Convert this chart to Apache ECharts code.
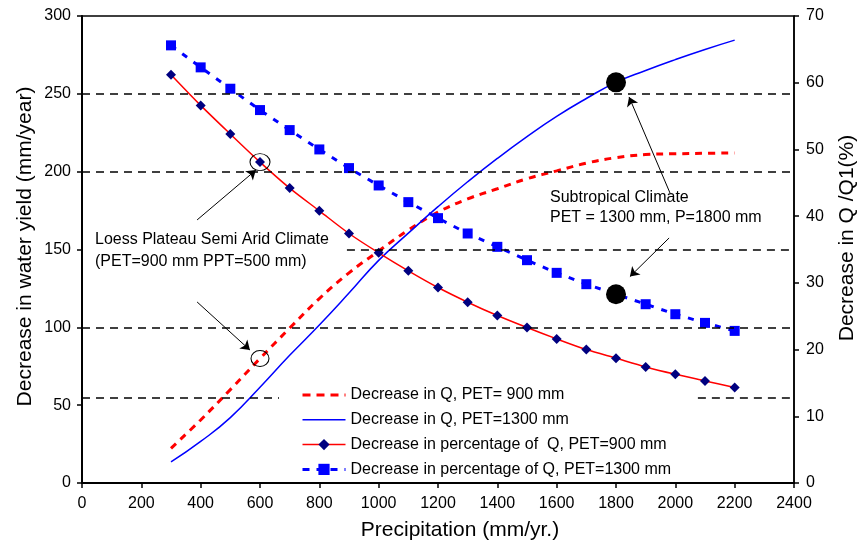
<!DOCTYPE html>
<html><head><meta charset="utf-8">
<script src="https://cdn.jsdelivr.net/npm/echarts@6/dist/echarts.min.js"></script>
<style>html,body{margin:0;padding:0;background:#fff}#c{width:859px;height:543px}</style>
</head><body><div id="c"></div>
<script>
const precipitation = [300,400,500,600,700,800,900,1000,1100,1200,1300,1400,1500,1600,1700,1800,1900,2000,2100,2200];
const decreaseQ900  = [22.3,40.5,60,80,99.5,118.5,135,149,162.5,174,182.5,189,195.5,200.5,205.5,209,211,211.5,211.8,212];
const decreaseQ1300 = [13.5,26.7,42,61.5,82,101.5,122,143,160.5,177.5,193.5,208.5,222.5,235.5,247,257.4,265,272,278.5,284.5];
const pctQ900  = [61.2,56.6,52.3,48.1,44.2,40.8,37.4,34.5,31.8,29.3,27.1,25.1,23.3,21.6,20.0,18.7,17.4,16.3,15.3,14.3];
const pctQ1300 = [65.6,62.3,59.1,55.9,52.9,50.0,47.2,44.6,42.1,39.7,37.4,35.4,33.4,31.5,29.8,28.3,26.8,25.3,24.0,22.8];
const seriesNames = [
  'Decrease in Q, PET= 900 mm',
  'Decrease in Q, PET=1300 mm',
  'Decrease in percentage of  Q, PET=900 mm',
  'Decrease in percentage of Q, PET=1300 mm'
];
const refLevels = [250, 200, 100];
const xTitle = 'Precipitation (mm/yr.)';
const yLeftTitle = 'Decrease in water yield (mm/year)';
const yRightTitle = 'Decrease in Q /Q1(%)';
const note1 = ['Loess Plateau Semi Arid Climate', '(PET=900 mm PPT=500 mm)'];
const note2 = ['Subtropical Climate', 'PET = 1300 mm, P=1800 mm'];

const FF = '"Liberation Sans", Arial, Helvetica, sans-serif';
const pairs = ys => precipitation.map((x, i) => [x, ys[i]]);
const i600 = precipitation.indexOf(600), i1800 = precipitation.indexOf(1800);
const plain = v => String(v);

const dashedRef = { color: '#000', width: 1.5, type: [8, 6] };
const gridLines = refLevels.map(v => ({ yAxis: v }))
  .concat([
    [{ coord: [893, 150] }, { coord: [2400, 150] }],
    [{ coord: [0, 55] }, { coord: [664, 55] }],
    [{ coord: [2076, 55] }, { coord: [2400, 55] }]
  ]);
const arrows = [
  [{ coord: [388, 169] }, { coord: [586, 201] }],
  [{ coord: [388, 116.3] }, { coord: [566, 85.4] }],
  [{ coord: [1982, 186.3] }, { coord: [1844, 248] }],
  [{ coord: [1979, 157.4] }, { coord: [1847, 132.6] }]
];

const chart = echarts.init(document.getElementById('c'), null, { renderer: 'canvas' });
chart.setOption({
  animation: false,
  backgroundColor: '#fff',
  grid: { left: 82, right: 65, top: 16, bottom: 60, show: true, borderColor: '#000', borderWidth: 1.5, containLabel: false },
  legend: {
    orient: 'vertical', left: 296, top: 382, itemWidth: 43, itemHeight: 14, itemGap: 8.8,
    data: [
      { name: seriesNames[0], itemStyle: { opacity: 0 }, lineStyle: { width: 3, type: [8, 6] } },
      { name: seriesNames[1], itemStyle: { opacity: 0 }, lineStyle: { width: 1.5 } },
      { name: seriesNames[2], lineStyle: { width: 1.5 } },
      { name: seriesNames[3], lineStyle: { width: 3, type: [7, 7] } }
    ],
    textStyle: { fontSize: 16, fontFamily: FF, color: '#000' }
  },
  xAxis: {
    type: 'value', min: 0, max: 2400, interval: 200,
    axisLine: { lineStyle: { color: '#000', width: 2 } },
    axisTick: { show: true, length: 5, lineStyle: { color: '#000', width: 1.5 } },
    axisLabel: { color: '#000', fontSize: 16, fontFamily: FF, margin: 13, formatter: plain },
    splitLine: { show: false }
  },
  yAxis: [
    {
      type: 'value', min: 0, max: 300, interval: 50, position: 'left',
      axisLine: { show: true, lineStyle: { color: '#000', width: 2 } },
      axisTick: { show: true, length: 5, lineStyle: { color: '#000', width: 1.5 } },
      axisLabel: { color: '#000', fontSize: 16, fontFamily: FF, margin: 11, formatter: plain },
      splitLine: { show: false }
    },
    {
      type: 'value', min: 0, max: 70, interval: 10, position: 'right',
      axisLine: { show: true, lineStyle: { color: '#000', width: 1.5 } },
      axisTick: { show: true, length: 5, lineStyle: { color: '#000', width: 1.5 } },
      axisLabel: { color: '#000', fontSize: 16, fontFamily: FF, margin: 12, formatter: plain },
      splitLine: { show: false }
    }
  ],
  series: [
    {
      name: seriesNames[0], type: 'line', yAxisIndex: 0, data: pairs(decreaseQ900),
      symbol: 'none', smooth: 0.4,
      lineStyle: { color: '#ff0000', width: 3, type: [7, 6] }, itemStyle: { color: '#ff0000' },
      markLine: { silent: true, symbol: 'none', label: { show: false }, lineStyle: dashedRef, data: gridLines },
      markPoint: {
        silent: true, label: { show: false },
        data: [{ coord: [600, decreaseQ900[i600]], symbol: 'circle', symbolSize: [18, 16],
                 itemStyle: { color: 'rgba(0,0,0,0)', borderColor: '#000', borderWidth: 1 } }]
      }
    },
    {
      name: seriesNames[1], type: 'line', yAxisIndex: 0, data: pairs(decreaseQ1300),
      symbol: 'none', smooth: 0.5,
      lineStyle: { color: '#0000ff', width: 1.5 }, itemStyle: { color: '#0000ff' },
      markLine: { silent: true, symbol: ['none', 'arrow'], symbolSize: 9, label: { show: false },
                  lineStyle: { color: '#000', width: 1, type: 'solid' }, data: arrows },
      markPoint: {
        silent: true, label: { show: false },
        data: [{ coord: [1800, decreaseQ1300[i1800]], symbol: 'circle', symbolSize: 20, itemStyle: { color: '#000' } }]
      }
    },
    {
      name: seriesNames[2], type: 'line', yAxisIndex: 1, data: pairs(pctQ900),
      symbol: 'diamond', symbolSize: 10, smooth: 0.3,
      lineStyle: { color: '#ff0000', width: 1.5 }, itemStyle: { color: '#000080' },
      markPoint: {
        silent: true, label: { show: false },
        data: [{ coord: [600, pctQ900[i600]], symbol: 'circle', symbolSize: [20, 17],
                 itemStyle: { color: 'rgba(0,0,0,0)', borderColor: '#000', borderWidth: 1 } }]
      }
    },
    {
      name: seriesNames[3], type: 'line', yAxisIndex: 1, data: pairs(pctQ1300),
      symbol: 'rect', symbolSize: 10,
      lineStyle: { color: '#0000ff', width: 3, type: [6, 8] }, itemStyle: { color: '#0000ff' },
      markPoint: {
        silent: true, label: { show: false },
        data: [{ coord: [1800, pctQ1300[i1800]], symbol: 'circle', symbolSize: 20, itemStyle: { color: '#000' } }]
      }
    }
  ],
  graphic: [
    { type: 'text', x: 460, y: 530, style: { text: xTitle, font: '21px ' + FF, fill: '#000', align: 'center', verticalAlign: 'middle' } },
    { type: 'text', x: 25, y: 246.5, rotation: Math.PI / 2, style: { text: yLeftTitle, font: '21px ' + FF, fill: '#000', align: 'center', verticalAlign: 'middle' } },
    { type: 'text', x: 847, y: 238, rotation: Math.PI / 2, style: { text: yRightTitle, font: '21px ' + FF, fill: '#000', align: 'center', verticalAlign: 'middle' } },
    { type: 'text', x: 95, y: 240, style: { text: note1[0], font: '16px ' + FF, fill: '#000', verticalAlign: 'middle' } },
    { type: 'text', x: 95, y: 262, style: { text: note1[1], font: '16px ' + FF, fill: '#000', verticalAlign: 'middle' } },
    { type: 'text', x: 550, y: 197.5, style: { text: note2[0], font: '16px ' + FF, fill: '#000', verticalAlign: 'middle' } },
    { type: 'text', x: 550, y: 217.5, style: { text: note2[1], font: '16px ' + FF, fill: '#000', verticalAlign: 'middle' } }
  ]
});
</script></body></html>
